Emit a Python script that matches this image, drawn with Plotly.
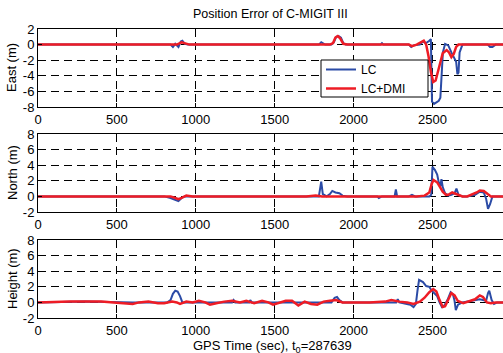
import plotly.graph_objects as go

# ---- data (time in sec, error in m) ----
east_lc = [(0,0),(200,0),(400,0),(600,0),(800,0),(840,0),(855,-0.3),(870,0.1),(890,-0.3),(905,0.4),(915,0.5),(930,0.1),(950,0),
           (1200,0),(1500,0.05),(1600,0),(1780,0),(1795,0.3),(1805,0.2),(1820,0),(1860,0),(1875,0.3),(1890,1.0),(1905,1.1),
           (1920,0.9),(1935,0.2),(1950,0),(2170,0),(2180,0.2),(2190,0),(2350,0),(2365,-0.3),(2380,-0.1),(2420,0),(2440,0.4),
           (2460,0.2),(2480,0.5),(2490,0.7),(2497,-7.3),(2510,-7.6),(2525,-7.4),(2540,-7.2),(2550,-6.8),(2558,-4),(2566,-1),
           (2580,0.1),(2600,-0.1),(2620,-1.0),(2640,-1.8),(2650,-2.2),(2658,-3.8),(2665,-3.6),(2672,-1),(2690,0),(2750,0),
           (2850,0),(2865,-0.3),(2880,-0.3),(2900,0),(2950,0)]
east_dmi = [(0,0),(800,0),(880,0),(910,0.3),(930,0.2),(960,0),(1500,0),(1850,0),(1870,0.2),(1885,0.9),(1900,1.1),(1915,0.8),
            (1935,0.1),(1960,0),(2350,0),(2370,-0.2),(2400,0),(2430,0.4),(2445,0.5),(2460,0),(2475,-1.5),(2490,-3.5),
            (2505,-4.8),(2520,-4.6),(2535,-3.4),(2550,-2.2),(2565,-1.1),(2590,-0.7),(2605,-1.0),(2620,-1.6),(2635,-1.2),
            (2650,-0.3),(2665,0),(2950,0)]
north_lc = [(0,0),(800,0),(840,-0.2),(870,-0.4),(890,-0.6),(910,-0.2),(930,0),(1780,0),(1788,0.8),(1795,1.9),(1805,0.3),
            (1830,0),(1850,0.3),(1865,0.7),(1885,0.5),(1910,0.4),(1930,0.1),(1960,0),(2150,0),(2160,-0.2),(2180,0),
            (2260,0),(2268,0.9),(2276,0),(2350,0),(2370,0.2),(2390,0),(2480,0),(2492,0.2),(2500,3.8),(2515,3.4),
            (2530,2.8),(2540,1.8),(2550,1.3),(2557,2.2),(2565,1.2),(2580,0.4),(2600,0.1),(2620,0.2),(2640,0.4),
            (2652,1.0),(2665,0.2),(2690,0),(2720,0),(2770,0.2),(2800,0.6),(2825,0.5),(2840,-0.3),(2852,-1.6),
            (2865,-1.0),(2880,0),(2950,0)]
north_dmi = [(0,0),(840,0),(870,-0.2),(890,-0.35),(910,-0.2),(940,0.1),(980,0),(1700,0),(1760,0.1),(1800,0),(2400,0),
             (2450,0.1),(2480,0.5),(2495,1.6),(2507,2.1),(2530,1.8),(2548,1.2),(2565,0.6),(2585,0.2),(2600,0.2),
             (2625,0.5),(2655,0.3),(2690,0),(2720,0),(2750,0.2),(2780,0.5),(2800,0.75),(2825,0.7),(2850,0.3),
             (2870,0),(2950,0)]
height_lc = [(0,0),(300,0.1),(600,0),(820,0),(840,0.3),(855,1.1),(870,1.5),(885,1.4),(900,0.8),(915,0),(1000,0),
             (1230,0),(1240,0.3),(1250,0),(1340,0),(1345,0.3),(1355,0),(1860,0),(1880,0.6),(1895,0.7),(1910,0.3),
             (1930,0),(2270,0),(2280,0.4),(2290,0),(2360,-0.3),(2380,-0.6),(2395,-0.2),(2405,1.5),(2415,2.9),
             (2440,2.6),(2460,2.1),(2480,2.0),(2495,1.5),(2510,1.2),(2530,0.8),(2545,0),(2560,-0.6),(2575,-0.4),
             (2595,0.3),(2615,1.3),(2630,1.0),(2640,0.2),(2648,-1.0),(2662,-0.3),(2690,0),(2800,0.4),(2840,0.2),
             (2852,1.2),(2860,1.5),(2875,0.3),(2890,-0.2),(2910,0),(2950,0)]
height_dmi = [(0,0),(200,0.1),(400,0.1),(560,-0.1),(600,-0.2),(640,0),(700,0.1),(760,-0.1),(800,-0.1),(850,0.1),
              (880,0),(900,-0.2),(940,0.1),(980,0),(1020,0.2),(1060,0),(1090,-0.3),(1130,-0.1),(1180,0.1),(1230,0.2),
              (1280,0),(1320,0.2),(1370,-0.1),(1420,0.2),(1460,0),(1490,-0.3),(1530,0),(1570,0.2),(1610,0.2),
              (1650,-0.4),(1690,0.1),(1730,-0.2),(1770,-0.3),(1810,0.1),(1850,0.2),(1890,0.3),(1930,0),(1980,0),
              (2100,0),(2200,0.1),(2240,0.3),(2290,0.1),(2340,0),(2380,-0.2),(2420,0.1),(2450,0.6),(2480,1.3),
              (2505,1.7),(2525,1.4),(2545,0.3),(2565,-0.6),(2580,-0.5),(2600,0.4),(2620,1.2),(2640,0.9),(2660,0.2),
              (2695,-0.1),(2730,0.1),(2770,0.4),(2800,0.9),(2820,0.7),(2845,0),(2870,-0.1),(2900,0),(2950,0)]

x_ticks = [0, 500, 1000, 1500, 2000, 2500]
east_ticks = [2, 0, -2, -4, -6, -8]
nh_ticks = [8, 6, 4, 2, 0, -2]
panel_titles = ["East (m)", "North (m)", "Height (m)"]
series_names = ["LC", "LC+DMI"]

BLUE = "#2b4ba6"
RED = "#ee1c25"
W, H = 503, 353
FONT = "Liberation Sans, Arial, sans-serif"

panels = [(east_lc, east_dmi, east_ticks, [-8, 2], (29, 107)),
          (north_lc, north_dmi, nh_ticks, [-2, 8], (134, 212)),
          (height_lc, height_dmi, nh_ticks, [-2, 8], (240, 318))]

fig = go.Figure()
layout = dict(width=W, height=H, margin=dict(l=0, r=0, t=0, b=0),
              paper_bgcolor="white", plot_bgcolor="white",
              font=dict(family=FONT, size=13, color="black"),
              showlegend=True,
              legend=dict(x=321 / W, y=1 - 55 / H, xanchor="left", yanchor="top",
                          borderwidth=0, bgcolor="rgba(0,0,0,0)",
                          font=dict(size=12), tracegroupgap=0),
              annotations=[],
              shapes=[dict(type="rect", xref="paper", yref="paper",
                           x0=321 / W, x1=428 / W, y0=1 - 97 / H, y1=1 - 60 / H,
                           line=dict(color="black", width=1), fillcolor="white", layer="above")])

for i, (lc, dmi, yt, yr, (ytop, ybot)) in enumerate(panels):
    n = "" if i == 0 else str(i + 1)
    xa, ya = "x" + n, "y" + n
    for data, name, col, w in [(lc, series_names[0], BLUE, 2), (dmi, series_names[1], RED, 2.5)]:
        fig.add_trace(go.Scatter(x=[p[0] for p in data], y=[p[1] for p in data], mode="lines",
                                 line=dict(color=col, width=w), name=name,
                                 showlegend=(i == 0), xaxis=xa, yaxis=ya))
    layout["xaxis" + n] = dict(domain=[38 / W, 1], range=[0, 2947], anchor=ya,
                               tickvals=x_ticks, ticktext=[str(v) for v in x_ticks],
                               ticks="inside", ticklen=4, tickcolor="black",
                               showline=True, linecolor="black", linewidth=1, mirror="ticks",
                               showgrid=True, gridcolor="black", gridwidth=1, griddash="8px,5px",
                               zeroline=False, automargin=False, tickfont=dict(size=13))
    layout["yaxis" + n] = dict(domain=[1 - ybot / H, 1 - ytop / H], range=yr, anchor=xa,
                               tickvals=yt, ticktext=[str(v) for v in yt],
                               ticks="inside", ticklen=4, tickcolor="black",
                               showline=True, linecolor="black", linewidth=1, mirror=False,
                               showgrid=True, gridcolor="black", gridwidth=1, griddash="8px,5px",
                               zeroline=False, automargin=False, tickfont=dict(size=13))
    layout["annotations"].append(dict(text=panel_titles[i], x=12 / W, y=1 - (ytop + ybot) / 2 / H,
                                      xref="paper", yref="paper", showarrow=False, textangle=-90,
                                      xanchor="center", yanchor="middle", font=dict(size=13)))

layout["annotations"].append(dict(text="Position Error of C-MIGIT III", x=270 / W, y=1 - 14 / H,
                                  xref="paper", yref="paper", showarrow=False,
                                  xanchor="center", yanchor="middle", font=dict(size=12.5)))
layout["annotations"].append(dict(text="GPS Time (sec), t<sub>0</sub>=287639", x=272 / W, y=-4 / H,
                                  xref="paper", yref="paper", showarrow=False,
                                  xanchor="center", yanchor="bottom", font=dict(size=13)))
fig.update_layout(**layout)
fig.write_html("out.html", config={"displayModeBar": False},
               post_script="document.body.style.margin='0';document.body.style.overflow='hidden';")
